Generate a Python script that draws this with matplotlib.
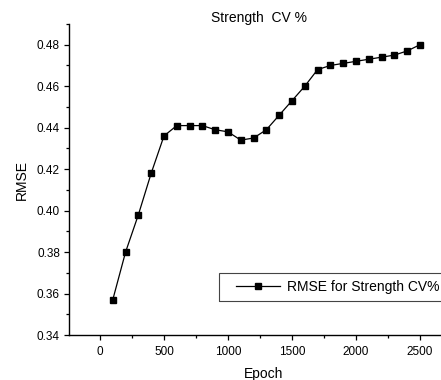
import matplotlib
matplotlib.use("Agg")
import matplotlib.pyplot as plt
from matplotlib.patches import Rectangle
from matplotlib.ticker import MultipleLocator, FormatStrFormatter

epochs = [100, 200, 300, 400, 500, 600, 700, 800, 900, 1000, 1100, 1200, 1300,
          1400, 1500, 1600, 1700, 1800, 1900, 2000, 2100, 2200, 2300, 2400, 2500]
rmse = [0.357, 0.380, 0.398, 0.418, 0.436, 0.441, 0.441, 0.441, 0.439, 0.438,
        0.434, 0.435, 0.439, 0.446, 0.453, 0.460, 0.468, 0.470, 0.471, 0.472,
        0.473, 0.474, 0.475, 0.477, 0.480]
series_label = "RMSE for Strength CV%"
title = "Strength  CV %"

plt.rcParams['font.family'] = ['Liberation Sans', 'DejaVu Sans']

W, H = 441, 380
fig = plt.figure(figsize=(W / 100, H / 100), dpi=100)
left, bottom, top = 69 / W, 1 - 335 / H, 1 - 24 / H
ax = fig.add_axes([left, bottom, 390 / W, top - bottom])

ax.plot(epochs, rmse, color='black', lw=0.9, marker='s', markersize=5,
        markerfacecolor='black', markeredgecolor='black', label=series_label)

ax.set_xlim(-242, 2805)
ax.set_ylim(0.34, 0.49)
ax.xaxis.set_major_locator(MultipleLocator(500))
ax.xaxis.set_minor_locator(MultipleLocator(250))
ax.yaxis.set_major_locator(MultipleLocator(0.02))
ax.yaxis.set_minor_locator(MultipleLocator(0.01))
ax.yaxis.set_major_formatter(FormatStrFormatter('%.2f'))

for s in ['top', 'right']:
    ax.spines[s].set_visible(False)
for s in ['left', 'bottom']:
    ax.spines[s].set_linewidth(1.0)

ax.tick_params(which='major', direction='out', length=3.5, width=0.9,
               labelsize=8.5, colors='black', pad=3)
ax.tick_params(axis='x', which='major', pad=4.5)
ax.tick_params(which='minor', direction='out', length=2.5, width=0.9)

ax.set_xlabel("Epoch", fontsize=10, labelpad=6.5)
ax.set_ylabel("RMSE", fontsize=10, labelpad=6)
fig.text(259 / W, 1 - 18 / H, title, ha='center', va='center', fontsize=10)

leg = ax.legend(loc='center left', bbox_to_anchor=(236 / W, 1 - 287 / H),
                bbox_transform=fig.transFigure, borderaxespad=0, borderpad=0,
                frameon=False, fontsize=10, handlelength=3.2,
                handletextpad=0.5, markerscale=0.85)
fig.add_artist(Rectangle((219 / W, 1 - 301 / H), 240 / W, 28 / H,
                         transform=fig.transFigure, fill=False,
                         edgecolor='#444444', linewidth=0.8))

fig.savefig("out.png", dpi=100)
